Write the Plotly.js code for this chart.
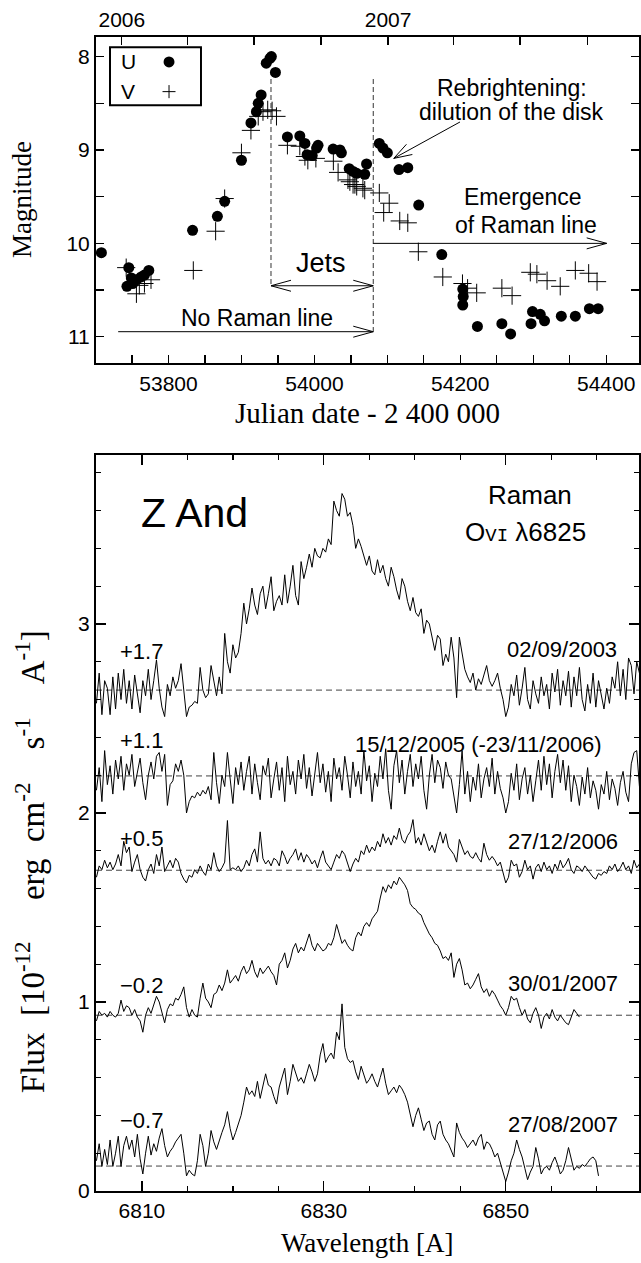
<!DOCTYPE html>
<html><head><meta charset="utf-8">
<script src="https://cdn.plot.ly/plotly-3.0.1.min.js"></script>
<style>html,body{margin:0;padding:0;background:#fff}</style>
</head><body><div id="chart" style="width:641px;height:1263px"></div>
<script>
// ---------- Top panel: photometry ----------
const uDate = [53708,53743,53745.5,53749,53751,53756,53762.5,53767,53773,53833,53867,53877,53900,53913,53920.5,53923,53927,53934,53939,53941,53946.6,53963,53980,53987,53990,53997,54003,54005,54025.7,54035,54037,54047.7,54053,54058,54069,54071.5,54089,54094,54100,54116,54128,54143,54174.6,54203.4,54204,54203.4,54223.5,54257,54269,54297,54299,54309.6,54315.5,54338.5,54357.7,54377,54389];
const uMag  = [10.10,10.46,10.26,10.37,10.43,10.39,10.36,10.34,10.29,9.86,9.71,9.55,9.11,8.71,8.59,8.50,8.41,8.07,8.02,8.00,8.17,8.86,8.85,8.93,9.05,9.06,8.98,8.95,8.99,9.00,9.03,9.20,9.23,9.25,9.26,9.15,8.93,8.98,9.03,9.21,9.19,9.59,10.12,10.49,10.57,10.66,10.89,10.86,10.97,10.86,10.73,10.76,10.83,10.78,10.78,10.70,10.70];
const vDate = [53742,53756,53760,53767,53776,53834,53864.6,53877,53900,53913,53923,53929.5,53936,53942,53948,53963,53980,53987,53991,54002,54026,54032.5,54046,54048.6,54053,54055.5,54058,54066.5,54069,54089,54095,54102.6,54117,54128,54142.5,54176,54203,54210,54222.5,54257,54271,54296,54305,54319,54337,54357.7,54376,54387.5];
const vMag  = [10.26,10.54,10.45,10.43,10.39,10.29,9.87,9.52,9.03,8.79,8.64,8.59,8.57,8.58,8.64,8.95,8.96,9.07,9.11,9.09,9.12,9.24,9.32,9.34,9.37,9.37,9.39,9.41,9.43,9.46,9.67,9.57,9.76,9.78,10.09,10.36,10.43,10.48,10.53,10.48,10.56,10.31,10.33,10.40,10.46,10.29,10.32,10.41];
const yearTickVals = [53736,54101];
const yearTickText = ['2006','2007'];
const quarterTickVals = [53826,53917,54009,54191,54282,54374];

// ---------- Bottom panel: spectra (sampled every WL_STEP Å from WL_START) ----------
const WL_START = 6805.0, WL_STEP = 0.3;
const flux2003 = [2.58,2.74,2.52,2.70,2.66,2.52,2.72,2.55,2.74,2.60,2.76,2.58,2.70,2.55,2.73,2.62,2.53,2.70,2.62,2.76,2.60,2.70,2.81,2.66,2.56,2.51,2.68,2.62,2.72,2.66,2.70,2.79,2.66,2.51,2.56,2.57,2.59,2.58,2.77,2.65,2.61,2.63,2.78,2.70,2.62,2.72,2.63,2.95,2.80,2.74,2.89,2.82,2.85,2.95,3.11,3.00,3.08,3.19,3.10,3.05,3.16,3.20,3.08,3.16,3.25,3.07,3.12,3.15,3.10,3.26,3.11,3.20,3.31,3.15,3.10,3.33,3.24,3.30,3.37,3.30,3.40,3.36,3.35,3.40,3.38,3.45,3.42,3.65,3.60,3.57,3.69,3.66,3.57,3.59,3.52,3.40,3.45,3.41,3.36,3.31,3.36,3.28,3.26,3.34,3.27,3.31,3.24,3.20,3.30,3.25,3.18,3.13,3.24,3.20,3.12,3.07,3.14,3.06,3.04,3.08,2.95,3.02,3.00,2.92,2.86,2.94,2.92,2.78,2.84,2.80,2.93,2.82,2.61,2.93,2.85,2.76,2.72,2.69,2.74,2.65,2.71,2.68,2.73,2.78,2.70,2.67,2.70,2.74,2.66,2.60,2.51,2.56,2.68,2.62,2.73,2.57,2.66,2.77,2.60,2.55,2.70,2.63,2.58,2.72,2.62,2.68,2.55,2.74,2.64,2.76,2.57,2.70,2.62,2.75,2.56,2.72,2.62,2.77,2.60,2.54,2.68,2.58,2.74,2.56,2.70,2.62,2.55,2.66,2.58,2.72,2.66,2.80,2.62,2.76,2.60,2.82,2.78,2.63,2.80,2.74];
const flux2005 = [2.12,2.24,2.06,2.33,2.15,2.25,2.10,2.28,2.18,2.30,2.12,2.26,2.20,2.31,2.14,2.22,2.29,2.16,2.07,2.20,2.27,2.18,2.30,2.32,2.22,2.31,2.04,2.15,2.17,2.26,2.22,2.28,2.20,2.00,2.06,2.09,2.08,2.11,2.09,2.12,2.10,2.14,2.07,2.32,2.16,2.05,2.20,2.14,2.32,2.18,2.05,2.24,2.15,2.27,2.12,2.22,2.30,2.10,2.26,2.16,2.07,2.25,2.20,2.29,2.08,2.18,2.27,2.12,2.24,2.06,2.30,2.15,2.22,2.10,2.28,2.18,2.31,2.13,2.24,2.09,2.20,2.32,2.16,2.26,2.11,2.22,2.06,2.29,2.18,2.24,2.12,2.30,2.20,2.08,2.27,2.14,2.22,2.10,2.33,2.17,2.25,2.06,2.21,2.14,2.30,2.18,2.34,2.12,2.02,2.25,2.33,2.16,2.28,2.10,2.22,2.31,2.14,2.26,2.18,2.30,2.12,2.02,2.20,2.31,2.16,2.28,2.24,2.13,2.27,2.20,2.18,2.08,2.00,2.15,2.33,2.10,2.22,2.06,2.19,2.12,2.26,2.08,2.18,2.24,2.14,2.29,2.10,2.22,2.13,2.08,2.00,2.06,2.21,2.12,2.26,2.07,2.18,2.24,2.10,2.20,2.06,2.17,2.28,2.12,2.30,2.15,2.26,2.08,2.22,2.31,2.16,2.28,2.12,2.25,2.06,2.20,2.14,2.04,2.19,2.10,2.24,2.08,2.17,2.12,2.02,2.15,2.10,2.22,2.07,2.18,2.13,2.04,2.16,2.22,2.11,2.06,2.26,2.32,2.33,2.14];
const flux2006 = [1.66,1.72,1.70,1.75,1.71,1.74,1.70,1.73,1.78,1.72,1.85,1.79,1.82,1.69,1.74,1.78,1.70,1.66,1.64,1.70,1.73,1.68,1.78,1.72,1.82,1.69,1.72,1.75,1.71,1.76,1.74,1.68,1.65,1.63,1.67,1.66,1.70,1.68,1.72,1.69,1.67,1.73,1.70,1.79,1.72,1.69,1.71,1.74,1.96,1.70,1.71,1.70,1.72,1.69,1.71,1.75,1.72,1.78,1.81,1.74,1.90,1.76,1.73,1.75,1.72,1.76,1.75,1.72,1.80,1.77,1.73,1.76,1.78,1.81,1.75,1.79,1.74,1.78,1.76,1.73,1.75,1.71,1.76,1.80,1.74,1.72,1.70,1.74,1.78,1.76,1.80,1.78,1.73,1.69,1.73,1.76,1.74,1.80,1.78,1.83,1.79,1.82,1.80,1.85,1.82,1.89,1.84,1.87,1.83,1.88,1.86,1.92,1.86,1.84,1.88,1.90,1.965,1.84,1.87,1.83,1.89,1.84,1.80,1.83,1.79,1.85,1.90,1.84,1.89,1.82,1.80,1.78,1.74,1.86,1.82,1.78,1.80,1.77,1.76,1.79,1.76,1.74,1.84,1.78,1.75,1.77,1.75,1.72,1.74,1.68,1.63,1.66,1.75,1.72,1.73,1.66,1.69,1.75,1.70,1.72,1.65,1.71,1.73,1.69,1.74,1.70,1.72,1.68,1.73,1.70,1.75,1.71,1.73,1.76,1.70,1.68,1.72,1.71,1.69,1.72,1.70,1.68,1.66,1.65,1.68,1.67,1.69,1.68,1.72,1.70,1.73,1.69,1.71,1.74,1.70,1.72,1.68,1.75,1.71,1.73];
const flux2007jan = [0.90,0.95,0.93,0.94,0.92,0.95,0.93,0.92,0.94,1.01,0.95,0.98,0.97,0.93,0.96,0.92,0.90,0.84,0.93,0.97,0.94,0.99,1.03,1.00,0.95,0.89,0.96,0.99,0.98,1.02,1.01,1.04,1.08,0.97,0.92,0.96,0.93,0.92,1.02,1.10,1.02,1.00,0.97,1.04,1.05,1.09,1.06,1.10,1.17,1.10,1.12,1.14,1.11,1.16,1.19,1.15,1.17,1.22,1.16,1.13,1.18,1.15,1.17,1.19,1.16,1.14,1.09,1.20,1.22,1.26,1.18,1.22,1.28,1.31,1.26,1.29,1.27,1.32,1.36,1.30,1.27,1.31,1.29,1.27,1.28,1.31,1.30,1.34,1.41,1.36,1.31,1.33,1.30,1.28,1.27,1.34,1.37,1.35,1.40,1.42,1.40,1.44,1.46,1.48,1.55,1.61,1.58,1.62,1.60,1.64,1.62,1.66,1.64,1.62,1.59,1.52,1.50,1.49,1.47,1.46,1.42,1.39,1.36,1.34,1.31,1.30,1.27,1.23,1.24,1.22,1.26,1.13,1.20,1.23,1.17,1.09,1.10,1.07,1.09,1.12,1.15,1.08,1.05,1.07,1.03,1.06,1.04,1.01,0.98,0.96,0.93,0.97,1.03,1.01,1.02,0.97,0.93,0.96,0.91,0.89,0.94,0.97,0.93,0.86,0.92,0.94,0.91,0.96,0.92,0.90,0.93,0.91,0.89,0.88,0.92,0.96,0.94,0.92];
const flux2007aug = [0.16,0.25,0.13,0.22,0.14,0.27,0.13,0.20,0.29,0.13,0.24,0.29,0.22,0.27,0.18,0.30,0.17,0.09,0.20,0.29,0.19,0.25,0.21,0.28,0.33,0.24,0.18,0.21,0.23,0.26,0.28,0.30,0.20,0.08,0.11,0.09,0.08,0.16,0.30,0.24,0.13,0.20,0.32,0.26,0.22,0.27,0.31,0.35,0.42,0.33,0.27,0.31,0.36,0.40,0.47,0.55,0.51,0.53,0.50,0.58,0.49,0.55,0.62,0.56,0.55,0.50,0.46,0.55,0.60,0.65,0.51,0.58,0.67,0.62,0.58,0.60,0.57,0.62,0.67,0.63,0.58,0.62,0.72,0.78,0.68,0.71,0.73,0.70,0.84,0.80,0.99,0.76,0.70,0.68,0.69,0.63,0.59,0.66,0.62,0.57,0.59,0.62,0.58,0.55,0.60,0.65,0.57,0.51,0.53,0.55,0.52,0.56,0.54,0.51,0.47,0.40,0.34,0.40,0.44,0.38,0.32,0.36,0.37,0.30,0.27,0.35,0.37,0.30,0.27,0.25,0.21,0.18,0.36,0.31,0.28,0.26,0.23,0.25,0.27,0.24,0.28,0.30,0.22,0.26,0.25,0.22,0.18,0.20,0.15,0.10,0.05,0.10,0.16,0.20,0.27,0.22,0.18,0.12,0.06,0.10,0.13,0.23,0.17,0.09,0.12,0.13,0.11,0.15,0.18,0.14,0.09,0.11,0.16,0.23,0.17,0.11,0.13,0.12,0.14,0.13,0.15,0.17,0.18,0.16,0.08];
const spectra = [flux2003, flux2005, flux2006, flux2007jan, flux2007aug];
const baselines = [2.65, 2.196, 1.697, 0.93, 0.132];
const offsetLabels = ['+1.7','+1.1','+0.5','\u22120.2','\u22120.7'];
const offsetLabelY = [2.852, 2.385, 1.865, 1.088, 0.374];
const dateLabels = ['02/09/2003','15/12/2005 (-23/11/2006)','27/12/2006','30/01/2007','27/08/2007'];
const dateLabelX = [6856.2, 6847.0, 6856.25, 6856.25, 6856.25];
const dateLabelY = [2.866, 2.362, 1.847, 1.097, 0.35];

const SANS = 'Liberation Sans, Arial, sans-serif';
const SERIF = 'Liberation Serif, Times New Roman, serif';
const wl = arr => arr.map((_, i) => +(WL_START + i * WL_STEP).toFixed(2));

const traces = [
  {x: uDate, y: uMag, xaxis:'x', yaxis:'y', mode:'markers', type:'scatter',
   marker:{symbol:'circle', size:11, color:'black'}, hoverinfo:'skip'},
  {x: vDate, y: vMag, xaxis:'x', yaxis:'y', mode:'markers', type:'scatter',
   marker:{symbol:'cross-thin', size:13, color:'black', line:{width:1, color:'black'}}, hoverinfo:'skip'},
  // invisible trace to activate the top (calendar year) axis
  {x: [uDate[0]], y: [uMag[0]], xaxis:'x2', yaxis:'y', mode:'markers', marker:{opacity:0}, hoverinfo:'skip'}
];
spectra.forEach(f => traces.push({x: wl(f), y: f, xaxis:'x3', yaxis:'y3', mode:'lines', type:'scatter',
  line:{color:'black', width:1}, hoverinfo:'skip'}));

const topRange = [53700.6, 54445];
const magRange = [11.285, 7.79];
const PX_PER_DAY = 543 / (topRange[1] - topRange[0]);
const PX_PER_MAG = 326 / (magRange[0] - magRange[1]);

const shapes = [];
const annotations = [];
const dash = {color:'#333', width:1, dash:'5px,3px'};
const solid = {color:'black', width:1};
const jetsStart = 53940.5, ramanStart = 54080.7;
shapes.push({type:'line', xref:'x', yref:'y', x0:jetsStart, x1:jetsStart, y0:8.24, y1:10.454, line:dash});
shapes.push({type:'line', xref:'x', yref:'y', x0:ramanStart, x1:ramanStart, y0:8.24, y1:10.946, line:dash});
shapes.push({type:'line', xref:'x', yref:'y', x0:jetsStart, x1:ramanStart, y0:10.454, y1:10.454, line:solid});
shapes.push({type:'line', xref:'x', yref:'y', x0:53731, x1:ramanStart, y0:10.946, y1:10.946, line:solid});
shapes.push({type:'line', xref:'x', yref:'y', x0:ramanStart, x1:54400.7, y0:10.0, y1:10.0, line:solid});
shapes.push({type:'line', xref:'x', yref:'y', x0:54199.6, x1:54108.8, y0:8.70, y1:9.09, line:solid});
// legend box + symbols
shapes.push({type:'rect', xref:'x', yref:'y', x0:53719.8, x1:53844.5, y0:7.90, y1:8.52, line:{color:'black', width:2}});
shapes.push({type:'circle', xref:'x', yref:'y', x0:53793.2, x1:53808.2, y0:7.998, y1:8.116, fillcolor:'black', line:{color:'black', width:0}});
shapes.push({type:'line', xref:'x', yref:'y', x0:53791.8, x1:53809.6, y0:8.375, y1:8.375, line:solid});
shapes.push({type:'line', xref:'x', yref:'y', x0:53800.7, x1:53800.7, y0:8.305, y1:8.445, line:solid});

// open arrowheads, given as pixel offsets of the two arms from the tip
function chevron(x, y, arms){
  const p = arms.map(a => [x + a[0] / PX_PER_DAY, y + a[1] / PX_PER_MAG]);
  shapes.push({type:'path', xref:'x', yref:'y', line:solid,
    path:'M' + p[0][0] + ',' + p[0][1] + ' L' + x + ',' + y + ' L' + p[1][0] + ',' + p[1][1]});
}
chevron(jetsStart, 10.454, [[20,-5.5],[20,5.5]]);
chevron(ramanStart, 10.454, [[-20,-5.5],[-20,5.5]]);
chevron(ramanStart, 10.946, [[-20,-5.5],[-20,5.5]]);
chevron(54400.7, 10.0, [[-20,-5.5],[-20,5.5]]);
chevron(54108.8, 9.09, [[18.6,-3.9],[12.7,-14.1]]);

function txt(x, y, xref, yref, text, size){
  annotations.push({x:x, y:y, xref:xref, yref:yref, text:text, showarrow:false,
    xanchor:'center', yanchor:'middle', font:{family:SANS, size:size, color:'black'}});
}
txt(53744.5, 8.057, 'x','y','U',21);
txt(53744.5, 8.375, 'x','y','V',21);
txt(54008.8, 10.21, 'x','y','Jets',27);
txt(53920.9, 10.80, 'x','y','No Raman line',23);
txt(54270.5, 8.34, 'x','y','Rebrightening:',23);
txt(54270.5, 8.59, 'x','y','dilution of the disk',23);
txt(54286.4, 9.50, 'x','y','Emergence',23);
txt(54289.6, 9.80, 'x','y','of Raman line',23);

// bottom panel labels
baselines.forEach(b => shapes.push({type:'line', xref:'paper', yref:'y3', x0:0, x1:1, y0:b, y1:b, layer:'below',
  line:{color:'#444', width:1, dash:'6px,4px'}}));
offsetLabels.forEach((t,i) => txt(6810.0, offsetLabelY[i], 'x3','y3', t, 22));
dateLabels.forEach((t,i) => txt(dateLabelX[i], dateLabelY[i], 'x3','y3', t, 22));
txt(6815.8, 3.586, 'x3','y3','Z And',41);
txt(6852.7, 3.683, 'x3','y3','Raman',26);
txt(6852.2, 3.488, 'x3','y3','O<span style="font-family:\'Liberation Mono\';font-size:19px">VI</span> \u03bb6825',26);

// axis titles
const serifTitle = (x,y,text,angle,size) => annotations.push({x:x, y:y, xref:'paper', yref:'paper', text:text,
  showarrow:false, xanchor:'center', yanchor:'middle', textangle:angle||0, font:{family:SERIF, size:size, color:'black'}});
serifTitle(0.5, 0.674, 'Julian date - 2 400 000', 0, 29);
serifTitle(-0.136, 0.8588, 'Magnitude', -90, 27);
serifTitle(0.5, -0.045, 'Wavelength [A]', 0, 27);
serifTitle(-0.1215, 0.285, 'Flux&nbsp;&nbsp;[10<sup>-12</sup>&nbsp;&nbsp;&nbsp;&nbsp;&nbsp;erg&nbsp;&nbsp;cm<sup>-2</sup>&nbsp;&nbsp;&nbsp;&nbsp;s<sup>-1</sup>&nbsp;&nbsp;&nbsp;&nbsp;A<sup>-1</sup>]', -90, 33);

const tickFont = {family:SANS, size:21, color:'black'};
const baseAxis = {showgrid:false, zeroline:false, showline:true, linecolor:'black', linewidth:2,
  ticks:'inside', tickcolor:'black', tickwidth:1.3, tickfont:tickFont};
const layout = {
  width:641, height:1263, margin:{l:96, r:2, t:37, b:72},
  paper_bgcolor:'white', plot_bgcolor:'white', showlegend:false,
  font:{family:SANS, color:'black'},
  xaxis: Object.assign({}, baseAxis, {domain:[0,1], anchor:'y', range:topRange, tickmode:'linear', tick0:53800, dtick:200,
    tickformat:'d', ticklen:8, minor:{ticks:'inside', tick0:53800, dtick:50, ticklen:8, tickcolor:'black', tickwidth:1.3}}),
  xaxis2: Object.assign({}, baseAxis, {overlaying:'x', side:'top', anchor:'y', range:topRange, tickmode:'array',
    tickvals:yearTickVals, ticktext:yearTickText, ticklen:8,
    minor:{ticks:'inside', tickmode:'array', tickvals:quarterTickVals, ticklen:8, tickcolor:'black', tickwidth:1.3}}),
  yaxis: Object.assign({}, baseAxis, {domain:[0.7172,1], anchor:'x', range:magRange, tickmode:'linear', tick0:8, dtick:1,
    ticklen:8, mirror:'ticks', minor:{ticks:'inside', tick0:8, dtick:0.5, ticklen:8, tickcolor:'black', tickwidth:1.3}}),
  xaxis3: Object.assign({}, baseAxis, {domain:[0,1], anchor:'y3', range:[6804.95, 6864.65], tickmode:'linear', tick0:6810, dtick:20,
    tickformat:'d', ticklen:10, mirror:'ticks', minor:{ticks:'inside', tick0:6810, dtick:5, ticklen:5, tickcolor:'black', tickwidth:1.3}}),
  yaxis3: Object.assign({}, baseAxis, {domain:[0,0.6378], anchor:'x3', range:[0, 3.894], tickmode:'linear', tick0:0, dtick:1,
    ticklen:10, mirror:'ticks', minor:{ticks:'inside', tick0:0, dtick:0.2, ticklen:5, tickcolor:'black', tickwidth:1.3}}),
  shapes: shapes, annotations: annotations
};
Plotly.newPlot('chart', traces, layout, {staticPlot:true, displayModeBar:false});
</script></body></html>
